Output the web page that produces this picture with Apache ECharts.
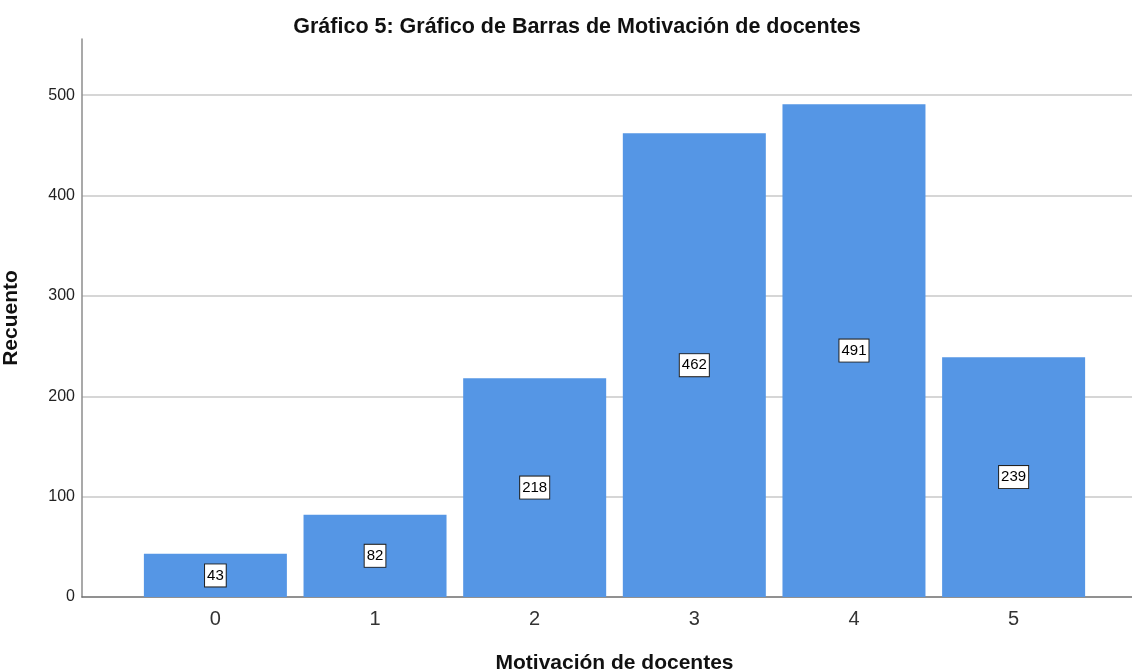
<!DOCTYPE html>
<html>
<head>
<meta charset="utf-8">
<script src="https://cdn.jsdelivr.net/npm/echarts@6/dist/echarts.min.js"></script>
<style>
  html, body { margin: 0; padding: 0; background: #fff; }
  #main { width: 1132px; height: 671px; }
</style>
</head>
<body>
<div id="main"></div>
<script>
// categorias y recuentos
const categories = [0, 1, 2, 3, 4, 5];
const counts = [43, 82, 218, 462, 491, 239];
const yTicks = [0, 100, 200, 300, 400, 500];

const myChart = echarts.init(document.getElementById('main'));

const font = '"Liberation Sans", Arial, sans-serif';

let option = {
  animation: false,
  title: {
    text: 'Gráfico 5: Gráfico de Barras de Motivación de docentes',
    left: 572,
    top: 11,
    textAlign: 'center',
    textStyle: { fontFamily: font, fontSize: 21.5, fontWeight: 'bold', color: '#111' }
  },
  grid: {
    left: 82,
    top: 39,
    width: 1065,
    height: 558,
    outerBoundsMode: 'none'
  },
  xAxis: {
    type: 'value',
    min: -0.8355,
    max: 5.8355,
    name: 'Motivación de docentes',
    nameLocation: 'middle',
    nameGap: 56,
    nameTextStyle: { fontFamily: font, fontSize: 21, fontWeight: 'bold', color: '#111' },
    axisLine: { show: true, onZero: false, lineStyle: { color: '#6e6e6e', width: 1.5 } },
    axisTick: { show: false },
    splitLine: { show: false },
    axisLabel: {
      customValues: categories,
      margin: 12,
      fontFamily: font,
      fontSize: 20,
      color: '#333'
    }
  },
  yAxis: {
    type: 'value',
    min: 0,
    max: 556,
    interval: 100,
    name: 'Recuento',
    nameLocation: 'middle',
    nameGap: 60,
    nameRotate: 90,
    nameTextStyle: { fontFamily: font, fontSize: 21, fontWeight: 'bold', color: '#111' },
    axisLine: { show: true, onZero: false, lineStyle: { color: '#8c8c8c', width: 1.5 } },
    axisTick: { show: false },
    axisLabel: {
      customValues: yTicks,
      margin: 7,
      fontFamily: font,
      fontSize: 16,
      color: '#222'
    },
    splitLine: { show: true, showMinLine: false, showMaxLine: false, lineStyle: { color: '#c8c8c8', width: 1.5 } }
  },
  series: [{
    type: 'bar',
    barWidth: 143,
    data: categories.map((c, i) => [c, counts[i]]),
    itemStyle: { color: '#5596e5' },
    label: {
      show: true,
      position: 'inside',
      formatter: p => p.value[1],
      fontFamily: font,
      fontSize: 15,
      color: '#000',
      backgroundColor: '#fff',
      borderColor: '#222',
      borderWidth: 1,
      padding: [4, 2, 3, 2]
    }
  }]
};

myChart.setOption(option);
</script>
</body>
</html>
